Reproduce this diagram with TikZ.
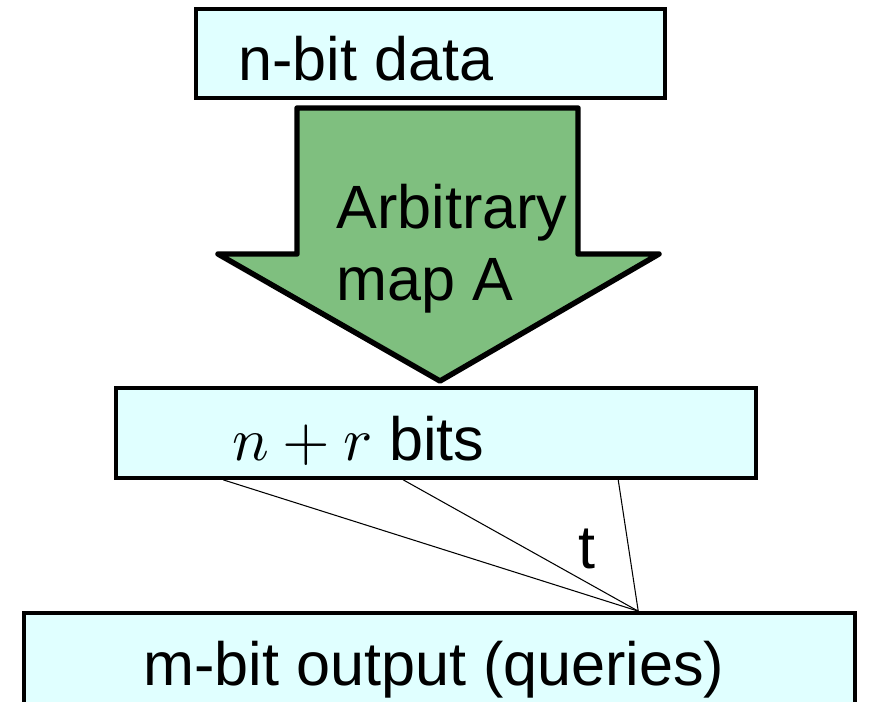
\documentclass[tikz,border=0pt]{standalone}
\usepackage{unicode-math}
\setmainfont{Liberation Sans}
\setmathfont{Latin Modern Math}
\usetikzlibrary{calc}

\definecolor{boxfill}{RGB}{224,255,255}
\definecolor{mapgreen}{RGB}{127,191,127}

\tikzset{
	bitbox/.style={draw=black, fill=boxfill, line width=2.1pt, inner sep=0pt},
	txt/.style={anchor=base west, inner sep=0pt, font=\fontsize{34.8}{41}\selectfont},
	wire/.style={black, line width=0.6pt}
}

\begin{document}
\begin{tikzpicture}[x=0.02cm, y=-0.02cm]
	\clip (0,0) rectangle (869,701);
	\useasboundingbox (0,0) rectangle (869,701);
	% the three registers
	\node [bitbox, minimum width=9.38cm, minimum height=1.78cm] (data) at (430.5,53.5) {};
	\node [bitbox, minimum width=12.8cm, minimum height=1.8cm] (mid) at (436,433) {};
	\node [bitbox, minimum width=16.62cm, minimum height=1.94cm] (out) at (439.5,661.5) {};
	% big arrow for the map
	\draw [fill=mapgreen, line width=3.1pt, line join=round]
		(297,108) -- (578,108) -- (578,254) -- (659,254) -- (440,381)
		-- (218,254) -- (297,254) -- cycle;
	% labels
	\node [txt] (datatxt) at (238,80) {n-bit data};
	\node [txt] (maptxt1) at (336,228) {Arbitrary};
	\node [txt] (maptxt2) at (336,300) {map A};
	\node [txt] (midtxt) at (232,460) {$n+r$ bits};
	\node [txt] (outtxt) at (143,685) {m-bit output (queries)};
	% fan of t wires into one output bit
	\coordinate (q) at ($(out.north west)+(616,0)$);
	\draw [wire] ($(mid.south west)+(109,0)$) -- (q);
	\draw [wire] ($(mid.south west)+(289,0)$) -- (q);
	\draw [wire] ($(mid.south west)+(504,0)$) -- (q);
	\node [txt] (tlab) at (578,568) {t};
\end{tikzpicture}
\end{document}
